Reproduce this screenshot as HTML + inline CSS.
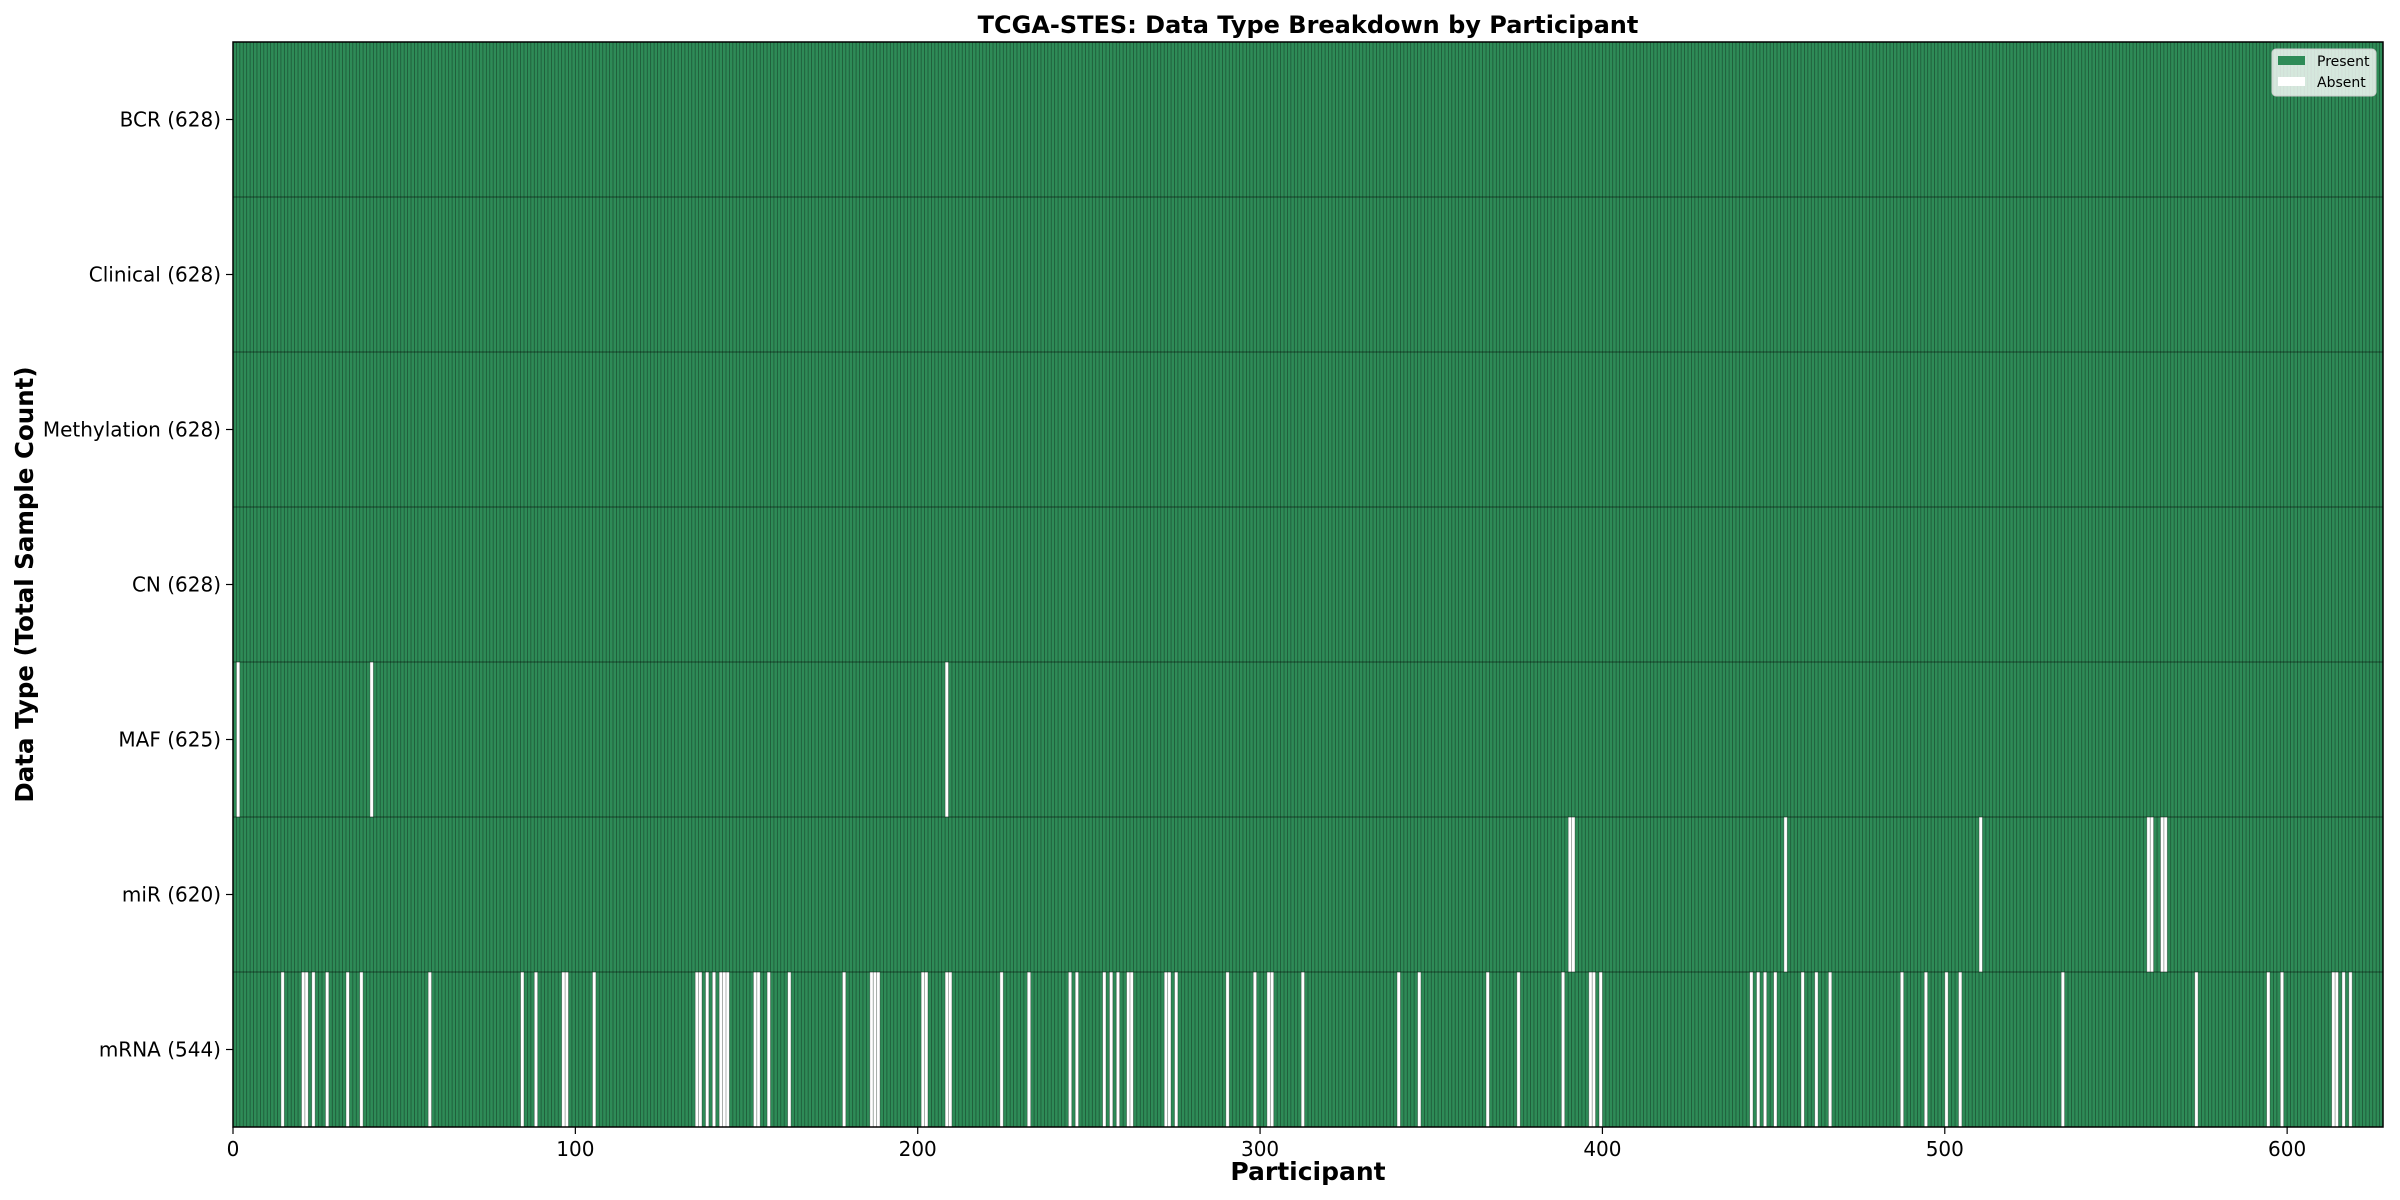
<!DOCTYPE html>
<html><head><meta charset="utf-8"><style>body{margin:0;background:#fff}svg{display:block}</style></head>
<body><svg id="s" width="2400" height="1200" xmlns="http://www.w3.org/2000/svg" font-family="DejaVu Sans, Liberation Sans, sans-serif"></svg>
<script>
const s=document.getElementById('s');
const L=233,R=2383,T=42,B=1127,N=628,sx=(R-L)/N,rh=(B-T)/7;
const rows=["BCR (628)","Clinical (628)","Methylation (628)","CN (628)","MAF (625)","miR (620)","mRNA (544)"];
const cv=a=>a.map(x=>Math.floor((x-152)/2.237));
const abs={4:[1,40,208],5:[390,391,453,510,559,560,563,564],
6:cv([184,198,200,204,213,227,236,280,341,350,367,371,388,455,458,461,466,470,473,476,493,496,502,515,551,569,572,574,602,604,618,620,654,671,673,699,703,721,726,731,736,739,762,764,768,801,819,828,832,851,913,927,971,992,1020,1038,1041,1046,1145,1148,1152,1159,1177,1186,1195,1242,1258,1271,1280,1347,1436,1481,1490,1525,1527,1531,1536])};
let h=`<rect x="${L}" y="${T}" width="${R-L}" height="${B-T}" fill="#2e8b57"/>`;
for(let r=0;r<7;r++){const y=T+r*rh;(abs[r]||[]).forEach(i=>{h+=`<rect x="${L+i*sx}" y="${y}" width="${sx}" height="${rh}" fill="#fff"/>`;});}
let p="";for(let i=0;i<=N;i++){const x=(L+i*sx).toFixed(2);p+=`M${x} ${T}V${B}`;}
h+=`<path d="${p}" stroke="#000" stroke-opacity="0.38" stroke-width="0.8"/>`;
for(let r=1;r<7;r++){const y=T+r*rh;h+=`<line x1="${L}" x2="${R}" y1="${y}" y2="${y}" stroke="#000" stroke-opacity="0.5" stroke-width="1"/>`;}
h+=`<rect x="${L}" y="${T}" width="${R-L}" height="${B-T}" fill="none" stroke="#000" stroke-width="1.5"/>`;
rows.forEach((t,r)=>{const y=T+(r+.5)*rh;h+=`<line x1="${L-7}" x2="${L}" y1="${y}" y2="${y}" stroke="#000" stroke-width="1.2"/><text x="${L-12}" y="${y+7}" font-size="20" text-anchor="end">${t}</text>`;});
for(let v=0;v<=600;v+=100){const x=L+v*sx;h+=`<line x1="${x}" x2="${x}" y1="${B}" y2="${B+7}" stroke="#000" stroke-width="1.2"/><text x="${x}" y="${B+29}" font-size="20" text-anchor="middle">${v}</text>`;}
h+=`<text x="${(L+R)/2}" y="33" font-size="24" font-weight="bold" text-anchor="middle">TCGA-STES: Data Type Breakdown by Participant</text>`;
h+=`<text x="${(L+R)/2}" y="1180" font-size="25" font-weight="bold" text-anchor="middle">Participant</text>`;
h+=`<text transform="translate(33,${(T+B)/2}) rotate(-90)" font-size="24.5" font-weight="bold" text-anchor="middle">Data Type (Total Sample Count)</text>`;
h+=`<rect x="2272" y="49" width="104" height="47" rx="4" fill="#fff" fill-opacity="0.8" stroke="#ccc"/>`;
h+=`<rect x="2278" y="56" width="27" height="9" fill="#2e8b57"/><text x="2317" y="66" font-size="14">Present</text>`;
h+=`<rect x="2278" y="77" width="27" height="9" fill="#fff"/><text x="2317" y="87" font-size="14">Absent</text>`;
s.innerHTML=h;
</script></body></html>
